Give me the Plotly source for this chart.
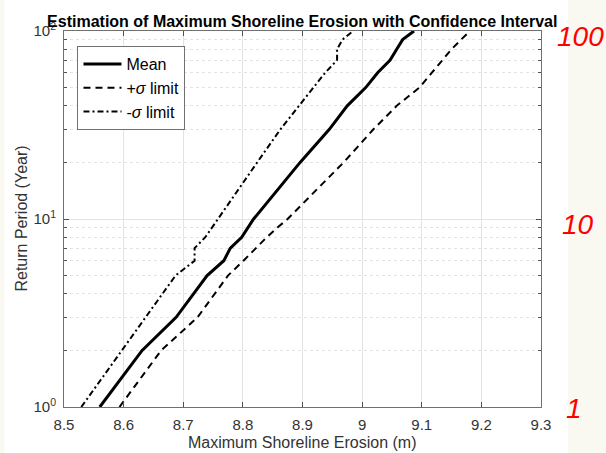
import math
import plotly.graph_objects as go

return_period = [1, 2, 3, 4, 5, 6, 7, 8, 9, 10, 20, 30, 40, 50, 60, 70, 80, 90, 100]
mean_erosion = [8.560, 8.631, 8.688, 8.717, 8.740, 8.768, 8.779, 8.798, 8.809, 8.818,
                8.896, 8.945, 8.975, 9.006, 9.026, 9.047, 9.058, 9.068, 9.087]
plus_sigma = [8.593, 8.663, 8.724, 8.752, 8.775, 8.801, 8.822, 8.840, 8.858, 8.875,
              8.969, 9.019, 9.058, 9.096, 9.117, 9.134, 9.150, 9.166, 9.181]
minus_sigma = [8.529, 8.597, 8.638, 8.666, 8.687, 8.719, 8.719, 8.737, 8.748, 8.759,
               8.824, 8.863, 8.894, 8.918, 8.938, 8.958, 8.958, 8.967, 8.985]

x_ticks = [8.5, 8.6, 8.7, 8.8, 8.9, 9.0, 9.1, 9.2, 9.3]
x_tick_labels = ["8.5", "8.6", "8.7", "8.8", "8.9", "9", "9.1", "9.2", "9.3"]
y_ticks = [1, 10, 100]
y_tick_labels = ["10<sup>0</sup>", "10<sup>1</sup>", "10<sup>2</sup>"]
y_minor = [2, 3, 4, 5, 6, 7, 8, 9, 20, 30, 40, 50, 60, 70, 80, 90]
side_labels = ["100", "10", "1"]
side_label_y = [100, 10, 1]
x_title = "Maximum Shoreline Erosion (m)"
y_title = "Return Period (Year)"

W, H = 606, 453
L, R, T, B = 63.5, 541, 31, 407
FONT = "Liberation Sans, Arial"

fig = go.Figure()
fig.add_trace(go.Scatter(x=mean_erosion, y=return_period, mode="lines", name="Mean",
                         line=dict(color="black", width=3)))
fig.add_trace(go.Scatter(x=plus_sigma, y=return_period, mode="lines", name="+<i>σ</i> limit",
                         line=dict(color="black", width=2, dash="7px,5px")))
fig.add_trace(go.Scatter(x=minus_sigma, y=return_period, mode="lines", name="-<i>σ</i> limit",
                         line=dict(color="black", width=2, dash="6px,3px,2px,3px")))


def px_x(p):
    return (p - L) / (R - L)


def px_y(p):
    return (B - p) / (B - T)


shapes = [
    dict(type="rect", xref="paper", yref="paper", x0=px_x(4), x1=px_x(568),
         y0=px_y(H + 5), y1=px_y(-5), fillcolor="white", line=dict(width=0), layer="below"),
]

annotations = []
for lab, yv, xp, ys in zip(side_labels, side_label_y, [581, 578, 574], [-5, -5, -1]):
    annotations.append(dict(xref="paper", yref="y", x=px_x(xp), y=math.log10(yv),
                            text="<i>" + lab + "</i>", showarrow=False,
                            xanchor="center", yanchor="middle", yshift=ys,
                            font=dict(family=FONT, size=28, color="#ff0000")))
annotations.append(dict(xref="paper", yref="paper", x=0.5, y=px_y(442.5),
                        text=x_title, showarrow=False, xanchor="center", yanchor="middle",
                        font=dict(family=FONT, size=16, color="#333333")))
annotations.append(dict(xref="paper", yref="paper", x=px_x(20), y=0.5, textangle=-90,
                        text=y_title, showarrow=False, xanchor="center", yanchor="middle",
                        font=dict(family=FONT, size=16, color="#333333")))

axis_common = dict(showline=True, linecolor="#707070", linewidth=1, mirror="ticks",
                   ticks="inside", tickcolor="#505050", ticklen=5, automargin=False,
                   gridcolor="#e3e3e3", gridwidth=1, zeroline=False,
                   tickfont=dict(family=FONT, size=15, color="#333333"))

fig.update_layout(
    width=W, height=H,
    margin=dict(l=L, r=W - R, t=T, b=H - B),
    paper_bgcolor="#f9f9f2", plot_bgcolor="white",
    shapes=shapes, annotations=annotations,
    title=dict(text="<b>Estimation of Maximum Shoreline Erosion with Confidence Interval</b>",
               x=((L + R) / 2) / W, xanchor="center",
               y=1 - 21 / H, yanchor="middle", yref="container",
               font=dict(family=FONT, size=16, color="black")),
    xaxis=dict(range=[8.5, 9.3], tickvals=x_ticks, ticktext=x_tick_labels,
               ticklabelstandoff=4, **axis_common),
    yaxis=dict(type="log", range=[0, 2], tickvals=y_ticks, ticktext=y_tick_labels,
               ticklabelstandoff=4,
               minor=dict(tickvals=y_minor, ticks="inside", ticklen=3, tickcolor="#505050",
                          showgrid=True, gridcolor="#e3e3e3", griddash="dot"),
               **axis_common),
    legend=dict(x=px_x(77), y=px_y(46), xanchor="left", yanchor="top",
                bgcolor="white", bordercolor="#707070", borderwidth=1,
                font=dict(family=FONT, size=16, color="black"),
                itemwidth=38, tracegroupgap=0),
    showlegend=True,
)

fig.write_html("out.html")
